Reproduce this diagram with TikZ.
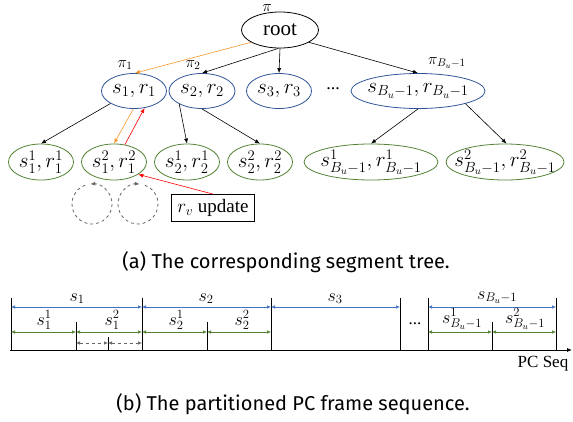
\RequirePackage{fix-cm}
\documentclass[tikz,border=0pt]{standalone}
\usepackage{fontspec}
\setmainfont{Liberation Serif}
\setsansfont{Fira Sans}
\usetikzlibrary{arrows.meta,shapes.geometric,calc}

\definecolor{segblue}{RGB}{47,85,151}
\definecolor{arrblue}{RGB}{68,114,196}
\definecolor{leafgreen}{RGB}{84,130,53}
\definecolor{pathorange}{RGB}{245,150,45}

\begin{document}
\begin{tikzpicture}[
  x=1pt, y=-1pt,
  segnode/.style={draw, ellipse, inner sep=0pt, minimum height=35pt, thick, font=\fontsize{21}{24}\selectfont},
  rootnode/.style={segnode, draw=black},
  midnode/.style={segnode, draw=segblue},
  leafnode/.style={segnode, draw=leafgreen, minimum height=36pt},
  tag/.style={font=\fontsize{16}{18}\selectfont},
  treeedge/.style={-{Latex[length=5pt,width=4pt]}, semithick},
  upd/.style={treeedge, draw=red},
  down/.style={treeedge, draw=pathorange},
  seglabel/.style={font=\fontsize{18}{20}\selectfont, inner sep=1pt, anchor=south},
  blueseg/.style={{Latex[length=4pt,width=3.5pt]}-{Latex[length=4pt,width=3.5pt]}, draw=arrblue, semithick},
  greenseg/.style={{Latex[length=4pt,width=3.5pt]}-{Latex[length=4pt,width=3.5pt]}, draw=leafgreen, semithick},
  grayseg/.style={{Latex[length=4pt,width=3.5pt]}-{Latex[length=4pt,width=3.5pt]}, draw=black!60, semithick, dashed},
  captext/.style={font=\sffamily\fontsize{20}{24}\selectfont}
]
\useasboundingbox (0,0) rectangle (573,421);

% (a) segment tree
\node[rootnode, minimum width=77pt, minimum height=36pt] (root) at (280,30) {root};
\node[tag] (piroot) at (267,8) {$\pi$};

\node[midnode, minimum width=65pt] (s1) at (134,91) {$s_1,r_1$};
\node[midnode, minimum width=66pt] (s2) at (202,91) {$s_2,r_2$};
\node[midnode, minimum width=65pt] (s3) at (279,91) {$s_3,r_3$};
\node[font=\fontsize{18}{20}\selectfont] (mdots) at (333,89) {...};
\node[midnode, minimum width=134pt, inner xsep=-8pt] (sB) at (418,91) {$s_{B_u-1},r_{B_u-1}$};

\node[tag] (pi1) at (125,65) {$\pi_1$};
\node[tag] (pi2) at (193,65) {$\pi_2$};
\node[tag] (piB) at (447,63) {$\pi_{B_u-1}$};

\node[leafnode, minimum width=65pt] (s11) at (41,162) {$s_1^1,r_1^1$};
\node[leafnode, minimum width=65pt] (s12) at (114,162) {$s_1^2,r_1^2$};
\node[leafnode, minimum width=65pt] (s21) at (187,162) {$s_2^1,r_2^1$};
\node[leafnode, minimum width=65pt] (s22) at (260,162) {$s_2^2,r_2^2$};
\node[leafnode, minimum width=134pt, inner xsep=-10pt] (sB1) at (371,162) {$s_{B_u-1}^1,r_{B_u-1}^1$};
\node[leafnode, minimum width=118pt, inner xsep=-12pt] (sB2) at (505,162) {$s_{B_u-1}^2,r_{B_u-1}^2$};

\node[draw, thick, inner sep=3pt, minimum width=83pt, minimum height=27pt,
  font=\fontsize{19}{22}\selectfont] (rv) at (213,208) {$r_v$ update};

\draw[down] (root.203) -- (s1.87);
\draw[treeedge] (root.265) -- (s2.north);
\draw[treeedge] (root.south) -- (s3.north);
\draw[treeedge] (root.337) -- (sB.north);
\draw[treeedge] (s1.208) -- (s11.north);
\draw[treeedge] (s2.210) -- (s21.north);
\draw[treeedge] (s2.south) -- (s22.north);
\draw[treeedge] (sB.south) -- (sB1.north);
\draw[treeedge] (sB.345) -- (sB2.85);
\draw[down] (s1.268) -- (s12.north);
\draw[upd] (s12.58) -- (s1.302);
\draw[upd] (rv.north) -- (s12.333);

% dashed loops
\coordinate (loopa) at (92,204);
\coordinate (loopb) at (138,204);
\draw[dashed, thick, draw=black!60, -{Latex[length=5pt,width=4pt]}]
  ($(loopa)+(250:20)$) arc[start angle=250, end angle=-95, radius=20];
\draw[dashed, thick, draw=black!60, -{Latex[length=5pt,width=4pt]}]
  ($(loopb)+(-430:20)$) arc[start angle=-430, end angle=-85, radius=20];

\node[captext] (capa) at (286,262) {(a) The corresponding segment tree.};

% (b) partitioned frame sequence
\draw[thick, -{Latex[length=5pt,width=4pt]}] (10,350) -- (572,350);
\foreach \x in {11,142,271,400,428,556}
  \draw[thick] (\x,298) -- (\x,350);
\foreach \x in {76,207,492}
  \draw[thick] (\x,322) -- (\x,350);
\draw[thick] (108,337) -- (108,350);

\foreach \a/\b in {11/142,142/271,271/400,428/556}
  \draw[blueseg] (\a,307) -- (\b,307);
\foreach \a/\b in {11/76,76/142,142/207,207/271,428/492,492/556}
  \draw[greenseg] (\a,332) -- (\b,332);
\foreach \a/\b in {76/108,108/142}
  \draw[grayseg] (\a,343) -- (\b,343);

\node[seglabel] (l1) at (77,305) {$s_1$};
\node[seglabel] (l2) at (206,305) {$s_2$};
\node[seglabel] (l3) at (335,305) {$s_3$};
\node[seglabel] (lB) at (497,305) {$s_{B_u-1}$};
\node[seglabel] (l11) at (44,331) {$s_1^1$};
\node[seglabel] (l12) at (112,331) {$s_1^2$};
\node[seglabel] (l21) at (176,331) {$s_2^1$};
\node[seglabel] (l22) at (242,331) {$s_2^2$};
\node[seglabel] (lB1) at (462,331) {$s_{B_u-1}^1$};
\node[seglabel] (lB2) at (525,331) {$s_{B_u-1}^2$};
\node[font=\fontsize{17}{18}\selectfont] (bdots) at (415,324) {...};
\node[font=\fontsize{17}{20}\selectfont] (pcseq) at (543,364) {PC Seq};

\node[captext] (capb) at (293,404) {(b) The partitioned PC frame sequence.};
\end{tikzpicture}
\end{document}
